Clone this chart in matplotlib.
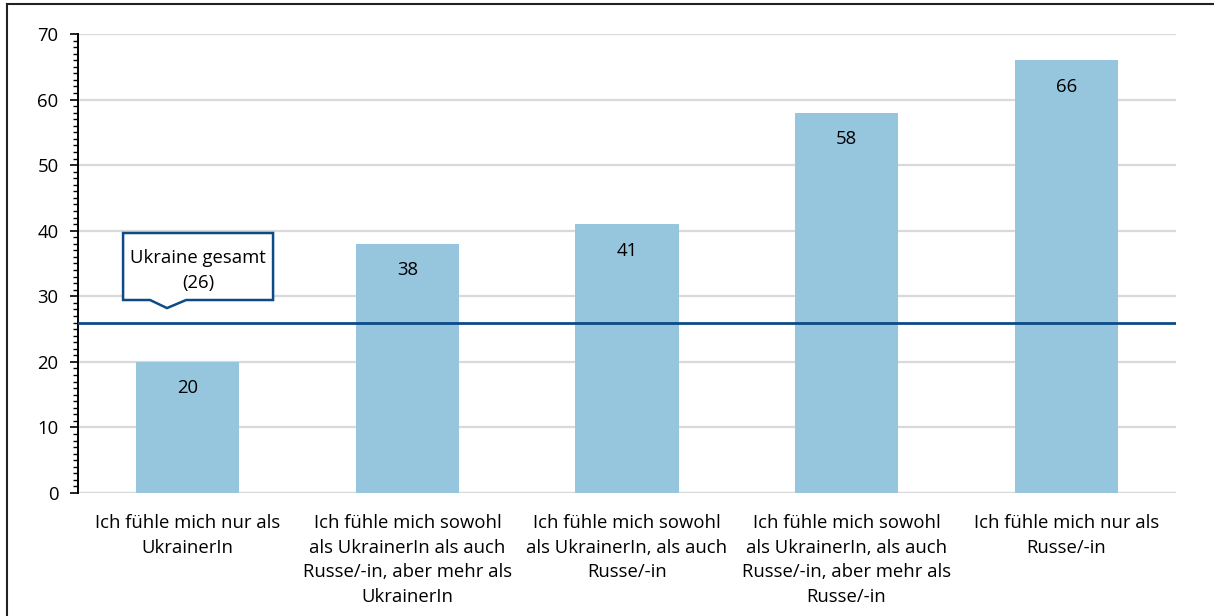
import numpy as np
import matplotlib.pyplot as plt
from matplotlib.patches import Polygon
from matplotlib.lines import Line2D
from matplotlib.ticker import MultipleLocator

plt.rcParams['font.family'] = ['Open Sans', 'DejaVu Sans']

categories = [
    "Ich fühle mich nur als\nUkrainerIn",
    "Ich fühle mich sowohl\nals UkrainerIn als auch\nRusse/-in, aber mehr als\nUkrainerIn",
    "Ich fühle mich sowohl\nals UkrainerIn, als auch\nRusse/-in",
    "Ich fühle mich sowohl\nals UkrainerIn, als auch\nRusse/-in, aber mehr als\nRusse/-in",
    "Ich fühle mich nur als\nRusse/-in",
]
werte = [20, 38, 41, 58, 66]
gesamt = 26
gesamt_text = "Ukraine gesamt\n(26)"

bar_farbe = '#96c5de'
linie_farbe = '#0d4a86'
fs = 13.3

fig = plt.figure(figsize=(12.14, 6.16), dpi=100)
ax = fig.add_axes([0.0643, 0.1997, 0.9044, 0.7451])

x = np.arange(len(categories))
ax.bar(x, werte, width=0.47, color=bar_farbe, zorder=2)

# Werte in den Balken
for xi, v in zip(x, werte):
    ax.annotate(str(v), (xi, v), xytext=(0, -19), textcoords='offset points',
                ha='center', va='center', fontsize=fs, color='black', zorder=4)

# Linie Ukraine gesamt
ax.axhline(gesamt, color=linie_farbe, lw=2, zorder=3)

# Sprechblase
bx0, bx1, by0, by1 = -0.295, 0.388, gesamt + 3.43, gesamt + 13.65
box = Polygon([(bx0, by0), (-0.172, by0), (-0.095, gesamt + 2.2), (-0.008, by0),
               (bx1, by0), (bx1, by1), (bx0, by1)], closed=True,
              facecolor='white', edgecolor=linie_farbe, lw=1.8, zorder=5)
ax.add_patch(box)
ax.text((bx0 + bx1) / 2, (by0 + by1) / 2 - 0.6, gesamt_text, ha='center', va='center',
        fontsize=fs, linespacing=1.5, zorder=6)

ax.set_xlim(-0.5, len(categories) - 0.5)
ax.set_ylim(0, 70)
ax.yaxis.set_major_locator(MultipleLocator(10))
ax.yaxis.set_minor_locator(MultipleLocator(1))
ax.set_xticks(x)
ax.set_xticklabels(categories, fontsize=fs, linespacing=1.48)
ax.tick_params(axis='x', length=0, pad=15)
ax.tick_params(axis='y', which='major', length=6, width=1.2, labelsize=fs, pad=8)
ax.tick_params(axis='y', which='minor', length=3.5, width=1)

ax.grid(axis='y', color='#d9d9d9', lw=1.6, zorder=0)
ax.set_axisbelow(True)
for s in ['top', 'right', 'bottom']:
    ax.spines[s].set_visible(False)
ax.spines['left'].set_linewidth(1.4)
ax.axhline(0, color='#d9d9d9', lw=1.6, zorder=1)

# Rahmen links und oben
fig.add_artist(Line2D([7 / 1214, 7 / 1214], [0, 1 - 4 / 616], transform=fig.transFigure, color='#222222', lw=1.5))
fig.add_artist(Line2D([7 / 1214, 1], [1 - 4 / 616, 1 - 4 / 616], transform=fig.transFigure, color='#222222', lw=1.5))

fig.savefig('out.png', dpi=100)
